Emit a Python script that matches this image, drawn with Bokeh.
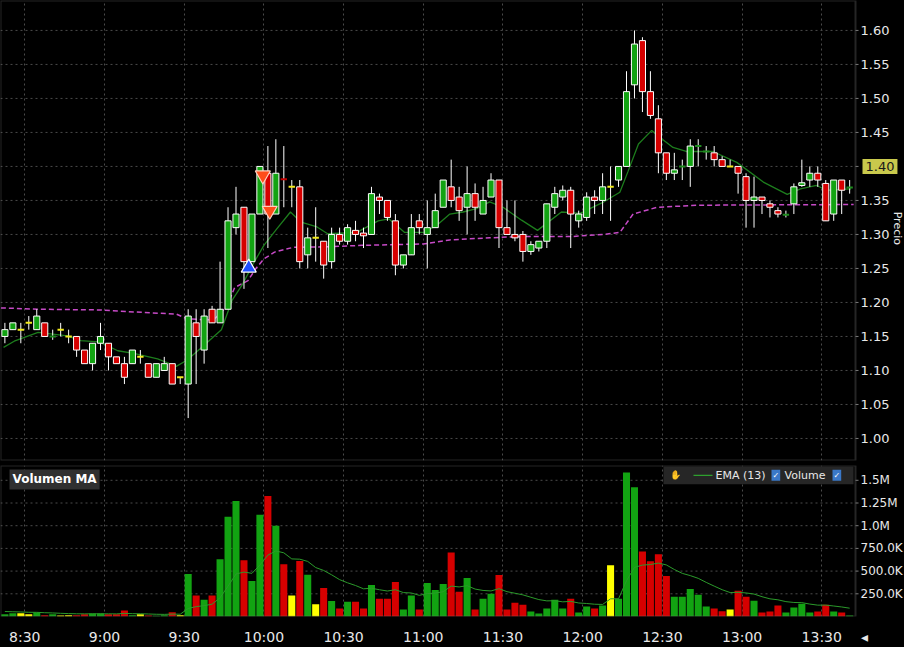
import math
from bokeh.plotting import figure
from bokeh.layouts import column
from bokeh.models import (ColumnDataSource, FixedTicker, Label, BoxAnnotation, Range1d)
from bokeh.core.properties import value
from bokeh.embed import file_html
from bokeh.resources import INLINE

# ---------------- data (3-minute bars) ----------------
first_bar = "8:21"
n_bars = 107
bar_minutes = 3

opens = [1.15, 1.16, 1.16, 1.17, 1.16, 1.17, 1.149, 1.16, 1.15, 1.15,
         1.13, 1.11, 1.14, 1.14, 1.12, 1.11, 1.11, 1.12, 1.11, 1.09,
         1.10, 1.11, 1.09, 1.08, 1.17, 1.13, 1.19, 1.17, 1.19, 1.31,
         1.34, 1.26, 1.33, 1.39, 1.33, 1.382, 1.37, 1.37, 1.27, 1.295,
         1.29, 1.26, 1.30, 1.29, 1.306, 1.302, 1.30, 1.355, 1.35, 1.32,
         1.255, 1.27, 1.32, 1.30, 1.31, 1.34, 1.37, 1.355, 1.34, 1.36,
         1.33, 1.355, 1.38, 1.31, 1.30, 1.30, 1.275, 1.28, 1.29, 1.34,
         1.355, 1.365, 1.32, 1.325, 1.355, 1.35, 1.37, 1.38, 1.40, 1.52,
         1.585, 1.51, 1.47, 1.42, 1.39, 1.399, 1.40, 1.429, 1.421, 1.42,
         1.41, 1.40, 1.40, 1.385, 1.35, 1.355, 1.345, 1.335, 1.328, 1.345,
         1.372, 1.38, 1.39, 1.375, 1.33, 1.38, 1.368]
highs = [1.17, 1.17, 1.17, 1.18, 1.19, 1.17, 1.16, 1.17, 1.16, 1.15,
         1.13, 1.14, 1.17, 1.14, 1.12, 1.12, 1.13, 1.13, 1.11, 1.11,
         1.12, 1.11, 1.09, 1.19, 1.19, 1.19, 1.195, 1.26, 1.34, 1.37,
         1.34, 1.33, 1.40, 1.43, 1.44, 1.43, 1.38, 1.38, 1.31, 1.34,
         1.29, 1.31, 1.31, 1.315, 1.32, 1.31, 1.37, 1.36, 1.35, 1.33,
         1.27, 1.33, 1.33, 1.35, 1.36, 1.38, 1.41, 1.37, 1.40, 1.375,
         1.37, 1.39, 1.38, 1.35, 1.35, 1.305, 1.29, 1.29, 1.345, 1.37,
         1.372, 1.37, 1.335, 1.362, 1.365, 1.39, 1.40, 1.40, 1.54, 1.60,
         1.59, 1.54, 1.49, 1.42, 1.42, 1.41, 1.44, 1.44, 1.43, 1.43,
         1.415, 1.41, 1.40, 1.39, 1.385, 1.355, 1.35, 1.34, 1.335, 1.375,
         1.41, 1.40, 1.40, 1.38, 1.38, 1.38, 1.38]
lows = [1.14, 1.16, 1.14, 1.16, 1.16, 1.15, 1.145, 1.15, 1.14, 1.12,
        1.11, 1.10, 1.13, 1.10, 1.11, 1.08, 1.11, 1.11, 1.09, 1.09,
        1.10, 1.08, 1.08, 1.03, 1.08, 1.11, 1.17, 1.17, 1.19, 1.30,
        1.22, 1.26, 1.33, 1.28, 1.33, 1.34, 1.34, 1.25, 1.25, 1.26,
        1.235, 1.25, 1.285, 1.285, 1.29, 1.28, 1.30, 1.33, 1.32, 1.24,
        1.25, 1.27, 1.30, 1.25, 1.31, 1.34, 1.34, 1.32, 1.30, 1.32,
        1.33, 1.355, 1.28, 1.30, 1.29, 1.26, 1.27, 1.275, 1.28, 1.33,
        1.35, 1.28, 1.31, 1.32, 1.33, 1.33, 1.32, 1.37, 1.40, 1.50,
        1.48, 1.47, 1.39, 1.38, 1.38, 1.38, 1.37, 1.40, 1.41, 1.40,
        1.40, 1.40, 1.36, 1.31, 1.31, 1.33, 1.325, 1.325, 1.325, 1.33,
        1.37, 1.37, 1.37, 1.32, 1.32, 1.33, 1.36]
closes = [1.16, 1.17, 1.16, 1.17, 1.18, 1.15, 1.151, 1.16, 1.15, 1.13,
          1.11, 1.14, 1.15, 1.12, 1.11, 1.09, 1.13, 1.12, 1.09, 1.11,
          1.11, 1.08, 1.09, 1.18, 1.15, 1.18, 1.17, 1.19, 1.32, 1.33,
          1.26, 1.33, 1.40, 1.33, 1.39, 1.380, 1.37, 1.26, 1.295, 1.295,
          1.255, 1.30, 1.29, 1.31, 1.30, 1.298, 1.36, 1.35, 1.325, 1.255,
          1.27, 1.31, 1.31, 1.31, 1.335, 1.38, 1.35, 1.335, 1.36, 1.34,
          1.35, 1.38, 1.31, 1.30, 1.295, 1.275, 1.285, 1.29, 1.345, 1.36,
          1.365, 1.33, 1.33, 1.355, 1.35, 1.37, 1.37, 1.40, 1.51, 1.58,
          1.51, 1.475, 1.42, 1.39, 1.395, 1.401, 1.43, 1.431, 1.423, 1.41,
          1.40, 1.40, 1.39, 1.35, 1.355, 1.35, 1.34, 1.33, 1.330, 1.37,
          1.376, 1.39, 1.38, 1.32, 1.38, 1.365, 1.370]
volumes_k = [25, 36, 36, 25, 43, 15, 25, 10, 15, 15,
             25, 33, 33, 25, 25, 65, 15, 25, 11, 7,
             15, 47, 15, 467, 232, 185, 232, 630, 1098, 1272,
             620, 391, 1120, 1326, 1000, 576, 232, 612, 460, 134,
             315, 170, 87, 163, 163, 87, 348, 196, 196, 380,
             76, 232, 76, 370, 293, 359, 706, 272, 424, 76,
             196, 250, 456, 76, 152, 130, 54, 33, 87, 185,
             87, 196, 43, 109, 87, 120, 565, 196, 1587, 1424,
             717, 609, 685, 446, 217, 217, 304, 239, 109, 87,
             58, 76, 283, 217, 174, 43, 54, 120, 43, 98,
             141, 43, 54, 130, 54, 43, 11]

# price EMA line and VWAP line
ema_times = ["8:22", "8:26", "8:35", "8:46", "8:51", "8:58", "9:05", "9:11", "9:20", "9:27",
             "9:31", "9:36", "9:44", "9:48", "9:52", "9:56", "10:00", "10:05", "10:10", "10:14",
             "10:20", "10:24", "10:35", "10:43", "10:47", "10:53", "11:00", "11:05", "11:10", "11:15",
             "11:20", "11:25", "11:30", "11:37", "11:43", "11:52", "11:59", "12:08", "12:14", "12:17",
             "12:21", "12:26", "12:29", "12:34", "12:39", "12:49", "12:58", "13:08", "13:17", "13:22",
             "13:28", "13:32", "13:41"]
ema_vals = [1.134, 1.143, 1.156, 1.151, 1.144, 1.142, 1.129, 1.125, 1.117, 1.106,
            1.115, 1.132, 1.16, 1.203, 1.227, 1.257, 1.284, 1.309, 1.333, 1.318,
            1.311, 1.301, 1.303, 1.32, 1.323, 1.303, 1.303, 1.313, 1.33, 1.333,
            1.338, 1.348, 1.34, 1.321, 1.306, 1.333, 1.331, 1.348, 1.362, 1.392,
            1.433, 1.453, 1.443, 1.428, 1.422, 1.422, 1.406, 1.377, 1.359, 1.367,
            1.372, 1.365, 1.367]
vwap_times = ["8:21", "8:35", "8:58", "9:11", "9:27", "9:31", "9:41", "9:45", "9:47", "9:49",
              "9:54", "9:57", "10:00", "10:04", "10:11", "10:25", "10:37", "11:00", "11:10", "11:25",
              "11:37", "11:56", "12:08", "12:14", "12:19", "12:28", "12:44", "13:42"]
vwap_vals = [1.192, 1.190, 1.189, 1.186, 1.183, 1.176, 1.174, 1.19, 1.203, 1.222,
             1.232, 1.25, 1.264, 1.274, 1.281, 1.282, 1.284, 1.286, 1.292, 1.295,
             1.297, 1.297, 1.30, 1.303, 1.33, 1.34, 1.343, 1.344]

# executions
buy_times = ["9:54:18"]
buy_prices = [1.251]
sell_times = ["9:59:36", "10:02:12"]
sell_prices = [1.387, 1.335]

price_ticks = [1.00, 1.05, 1.10, 1.15, 1.20, 1.25, 1.30, 1.35, 1.40, 1.45, 1.50, 1.55, 1.60]
vol_ticks = [250000, 500000, 750000, 1000000, 1250000, 1500000]
vol_tick_labels = ["250.0K", "500.0K", "750.0K", "1.0M", "1.25M", "1.5M"]
time_tick_labels = ["8:30", "9:00", "9:30", "10:00", "10:30", "11:00", "11:30",
                    "12:00", "12:30", "13:00", "13:30"]
last_price = 1.40
last_price_label = "1.40"


def tmin(s):
    parts = [int(v) for v in s.split(":")]
    m = parts[0] * 60 + parts[1]
    if len(parts) > 2:
        m += parts[2] / 60.0
    return m


start = tmin(first_bar)
bar_t = [start + bar_minutes * i for i in range(n_bars)]
xc = [t + bar_minutes / 2 for t in bar_t]
time_ticks = [tmin(s) for s in time_tick_labels]

# ---------------- geometry helpers ----------------
W = 904
AXPX = 855              # x pixel of the right axis line
PH, VH = 460, 153
X0 = 500.85
MPP = (822.7 - X0) / AXPX  # minutes per pixel
XW = X0 + W * MPP
PY0, PY1 = 0.9676, 1.644
VY1 = 1.663e6
VPP = VY1 / VH


def px_x(px):
    return X0 + px * MPP


GREEN, RED = "#12a312", "#d60000"
YEL, DGREEN, DRED = "#f2ea1c", "#1f8c1f", "#c40000"
FONT = "DejaVu Sans"
TXT = "#e8e8e8"
GRID = "#4a4a4a"
AXC = "#7c7c7c"

# ---------------- candle sources ----------------
box = dict(x=[], top=[], bottom=[], color=[])
dash = dict(x=[], y=[], color=[])
vcol = []
for i in range(n_bars):
    o, c = opens[i], closes[i]
    d = c - o
    if abs(d) < 1e-9:
        vcol.append("#ffff00")
    elif d > 0:
        vcol.append(GREEN)
    else:
        vcol.append(RED)
    if abs(d) < 0.003:
        dash["x"].append(xc[i])
        dash["y"].append((o + c) / 2)
        dash["color"].append(YEL if abs(d) < 1e-9 else (DGREEN if d > 0 else DRED))
    else:
        box["x"].append(xc[i])
        box["top"].append(max(o, c))
        box["bottom"].append(min(o, c))
        box["color"].append(GREEN if d > 0 else RED)

# volume EMA(13)
alpha = 2.0 / 14
vols = [v * 1000 for v in volumes_k]
vema = []
e = 60000.0
for v in vols:
    e = e + alpha * (v - e)
    vema.append(e)


def panel(f, ticks, labels, y_lo, y_hi, font_size):
    """Right-hand value axis drawn inside a full-width frame."""
    f.background_fill_color = "black"
    f.border_fill_color = "black"
    f.outline_line_color = None
    f.yaxis.visible = False
    f.ygrid.visible = False
    f.xgrid.ticker = FixedTicker(ticks=time_ticks)
    f.xgrid.grid_line_color = GRID
    f.xgrid.grid_line_dash = "2 3"
    n = len(ticks)
    f.segment(x0=[X0] * n, y0=ticks, x1=[px_x(AXPX)] * n, y1=ticks,
              line_color=GRID, line_dash="2 3", line_width=1)
    f.segment(x0=[px_x(AXPX)] * n, y0=ticks, x1=[px_x(AXPX + 3)] * n, y1=ticks,
              line_color=AXC, line_width=1)
    f.text(x=[px_x(AXPX + 5)] * len(labels[0]), y=labels[0], text=labels[1],
           text_font=value(FONT), text_font_size=value(font_size), text_color=TXT,
           text_baseline="middle", text_align="left")
    f.add_layout(BoxAnnotation(left=X0, right=px_x(AXPX), bottom=y_lo, top=y_hi,
                               fill_alpha=0, line_color=AXC, line_width=2))


# ---------------- price panel ----------------
p = figure(width=W, height=PH + 2, x_range=Range1d(X0, XW), y_range=Range1d(PY0, PY1),
           output_backend="svg", toolbar_location=None,
           min_border_left=0, min_border_top=0, min_border_bottom=2, min_border_right=0)
p.xaxis.visible = False
lab_ticks = [t for t in price_ticks if abs(t - last_price) > 1e-9]
panel(p, price_ticks, (lab_ticks, [f"{t:.2f}" for t in lab_ticks]), PY0, PY1, "13px")

p.line([tmin(t) for t in vwap_times], vwap_vals, line_color="#c64ac6", line_width=1.5,
       line_dash="5 3")
p.line([tmin(t) for t in ema_times], ema_vals, line_color="#1d7d1d", line_width=1.3)

p.segment(x0=xc, y0=highs, x1=xc, y1=lows, line_color="white", line_width=1)
p.vbar(x="x", top="top", bottom="bottom", width=2.3, fill_color="color", line_color="white",
       line_width=1, source=ColumnDataSource(box))
p.rect(x="x", y="y", width=2.4, height=2, height_units="screen", fill_color="color",
       line_color=None, source=ColumnDataSource(dash))

p.scatter([tmin(t) for t in buy_times], buy_prices, marker="triangle", size=15,
          fill_color="#1f4fff", line_color="white", line_width=1.2)
p.scatter([tmin(t) for t in sell_times], sell_prices, marker="inverted_triangle", size=15,
          fill_color="#ff4d1a", line_color="#ffd0c0", line_width=1.2)

p.add_layout(Label(x=px_x(AXPX + 7), y=last_price, text=last_price_label, text_font=FONT,
                   text_font_size="13px", text_color="#1a1a1a", text_baseline="middle",
                   background_fill_color="#c9c94c", padding=3))
p.add_layout(Label(x=px_x(897), y=1.309, text="Precio", angle=-math.pi / 2,
                   text_font=FONT, text_font_size="11px", text_color=TXT,
                   text_align="center", text_baseline="middle"))

# ---------------- volume panel ----------------
v = figure(width=W, height=VH + 3 + 29, x_range=p.x_range, y_range=Range1d(0, VY1),
           output_backend="svg", toolbar_location=None,
           min_border_left=0, min_border_top=3, min_border_bottom=29, min_border_right=0)
panel(v, vol_ticks, (vol_ticks, vol_tick_labels), 0, VY1, "12px")

arrow_tick = px_x(864)
xa = v.xaxis[0]
xa.ticker = FixedTicker(ticks=time_ticks + [arrow_tick])
overrides = {t: l for t, l in zip(time_ticks, time_tick_labels)}
overrides[arrow_tick] = "◂"
xa.major_label_overrides = overrides
xa.axis_line_color = None
xa.major_tick_line_color = None
xa.minor_tick_line_color = None
xa.major_label_standoff = 6
xa.major_label_text_color = TXT
xa.major_label_text_font = FONT
xa.major_label_text_font_size = "14px"

v.vbar(x=xc, top=vols, width=2.65, fill_color=vcol, line_color=None)
v.line(xc, vema, line_color="#2b9a2b", line_width=1)

v.add_layout(Label(x=px_x(9), y=VY1 - 4 * VPP, text="Volumen MA", text_font=FONT,
                   text_font_size="12px", text_font_style="bold", text_color="white",
                   text_baseline="top", background_fill_color="#303030", padding=3))
v.add_layout(BoxAnnotation(left=px_x(663), right=px_x(853), top=VY1 - 1 * VPP,
                           bottom=VY1 - 19 * VPP, fill_color="#262626", fill_alpha=1,
                           line_color=None))
v.add_layout(Label(x=px_x(669), y=VY1 - 10 * VPP, text="✋", text_font=FONT,
                   text_font_size="9px", text_color="#9ab0d0", text_baseline="middle"))
v.add_layout(BoxAnnotation(left=px_x(693), right=px_x(712), top=VY1 - 9.3 * VPP,
                           bottom=VY1 - 10.7 * VPP, fill_color="#2ea02e", fill_alpha=1,
                           line_color=None))
v.add_layout(Label(x=px_x(715), y=VY1 - 10 * VPP, text="EMA (13)", text_font=FONT,
                   text_font_size="11px", text_color=TXT, text_baseline="middle"))
v.add_layout(Label(x=px_x(784), y=VY1 - 10 * VPP, text="Volume", text_font=FONT,
                   text_font_size="11px", text_color=TXT, text_baseline="middle"))
for cx in (771, 832):
    v.add_layout(Label(x=px_x(cx), y=VY1 - 10 * VPP, text="✓", text_font=FONT,
                       text_font_size="8px", text_color="white", text_baseline="middle",
                       background_fill_color="#3a78c8", padding=1))

layout = column(p, v, spacing=0)
layout.styles = {"background-color": "black"}

html = file_html(layout, INLINE)
html = html.replace("<body>", "<body style=\"margin:0;background:#000;overflow:hidden\">", 1)
open("out.html", "w").write(html)
